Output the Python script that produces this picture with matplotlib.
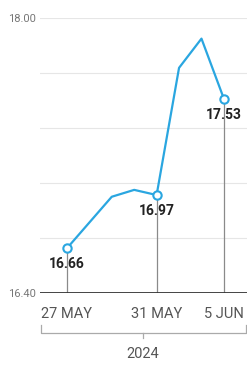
import matplotlib.pyplot as plt
from matplotlib import font_manager

# Data
dates = ["27 MAY", "28 MAY", "29 MAY", "30 MAY", "31 MAY", "3 JUN", "4 JUN", "5 JUN"]
values = [16.66, 16.81, 16.96, 17.00, 16.97, 17.71, 17.88, 17.53]
labelled = [0, 4, 7]
year = "2024"
y_ticks = [16.40, 18.00]
grid_vals = [16.72, 17.04, 17.36, 17.68, 18.00]

names = {f.name for f in font_manager.fontManager.ttflist}
narrow = "Liberation Sans Narrow" if "Liberation Sans Narrow" in names else "Roboto"
plt.rcParams["font.family"] = [narrow, "DejaVu Sans"]

blue = "#2aa6e0"
x = list(range(len(dates)))

fig = plt.figure(figsize=(2.47, 3.65), dpi=100)
ax = fig.add_axes([40 / 247, 72 / 365, 207 / 247, 275 / 365])

for g in grid_vals:
    ax.axhline(g, color="#e6e6e6", lw=0.8, zorder=0)

# drop lines
for i in labelled:
    ax.vlines(x[i], 16.40, values[i], color="#8a8a8a", lw=0.9, zorder=1)

ax.plot(x, values, color=blue, lw=1.6, zorder=3)
ax.plot([x[i] for i in labelled], [values[i] for i in labelled], "o", ms=6,
        mfc="white", mec=blue, mew=1.5, zorder=4)

for i in labelled:
    ax.annotate(f"{values[i]:.2f}", (x[i], values[i]), xytext=(0, -6.5),
                textcoords="offset points", ha="center", va="top",
                fontsize=10, fontweight="bold", color="#222222", zorder=5)

ax.axhline(16.40, color="#333333", lw=2, zorder=2)

ax.set_xlim(-1.2, 8.03)
ax.set_ylim(16.40, 18.00)
ax.set_yticks(y_ticks)
ax.set_yticklabels([f"{v:.2f}" for v in y_ticks], fontsize=8, color="#777777")
ax.tick_params(axis="y", length=0, pad=3)
ax.set_xticks([x[i] for i in labelled])
ax.set_xticklabels([dates[i] for i in labelled], fontsize=10.5, color="#555555")
ax.tick_params(axis="x", length=0, pad=10)
for s in ax.spines.values():
    s.set_visible(False)

# year bracket
by = -0.145
ax.plot([0.005, 0.005, 0.995, 0.995], [by + 0.03, by, by, by + 0.03],
        transform=ax.transAxes, clip_on=False, color="#aaaaaa", lw=0.9)
ax.plot([0.497, 0.497], [by, by - 0.018], transform=ax.transAxes,
        clip_on=False, color="#aaaaaa", lw=0.9)
ax.text(0.497, -0.22, year, transform=ax.transAxes, ha="center", va="center",
        fontsize=10.5, color="#555555")

plt.savefig("out.png", dpi=100)
